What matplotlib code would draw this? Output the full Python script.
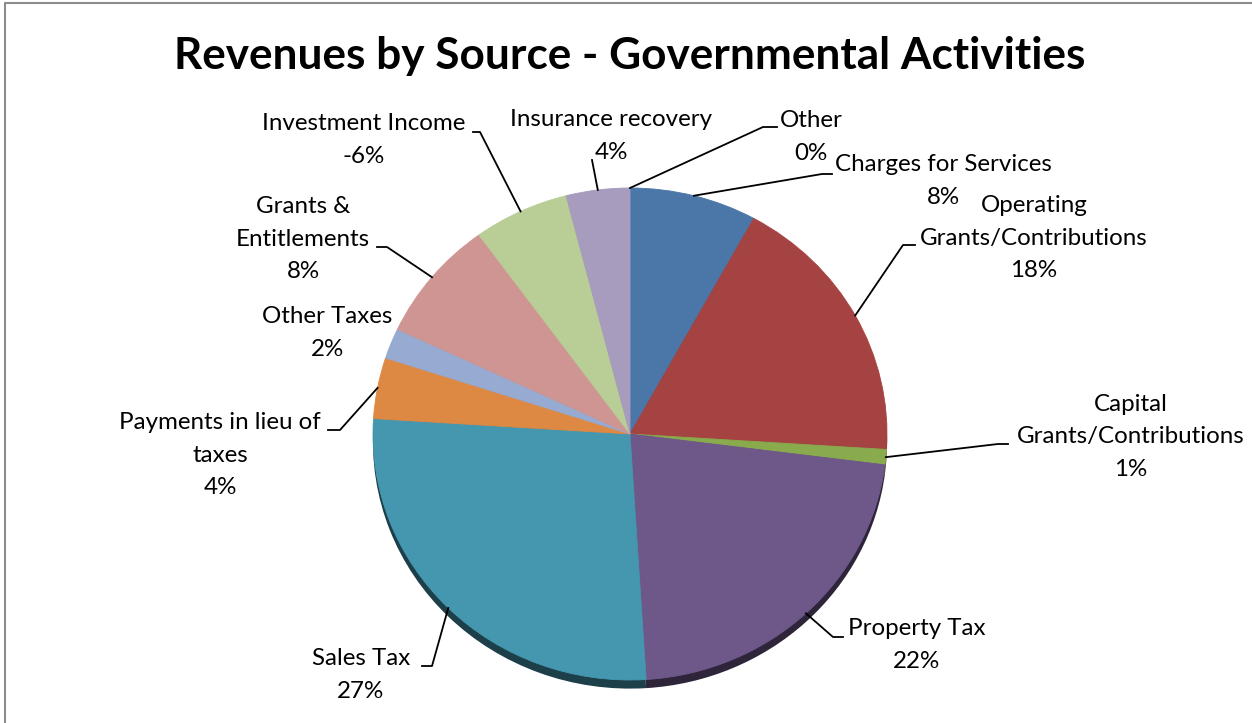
import numpy as np
import matplotlib.pyplot as plt
from matplotlib.colors import to_rgb

# revenue shares by source, clockwise from 12 o'clock
sources = ["Other", "Charges for Services", "Operating\nGrants/Contributions",
           "Capital\nGrants/Contributions", "Property Tax", "Sales Tax",
           "Payments in lieu of\ntaxes", "Other Taxes", "Grants &\nEntitlements",
           "Investment Income", "Insurance recovery"]
shares = [0, 8, 18, 1, 22, 27, 4, 2, 8, -6, 4]
colors = ["#4BACC6", "#4A76A8", "#A44341", "#8AAB4D", "#6E588A", "#4497AE",
          "#DE8943", "#96AAD2", "#CF9593", "#B9CD96", "#A89CBE"]

# label block centres and leader line knee/end points, in pixels from top-left
label_pos = [(811, 137), (943, 181), (1034, 238), (1131, 437), (917, 645),
             (361, 675), (220, 455), (327, 333), (303, 239), (364, 140), (611, 136)]
leader_pts = [[(763, 127), (777, 127)],
              [(822, 174), (832, 174)],
              [(903, 245), (915, 245)],
              [(998, 444), (1008, 444)],
              [(833, 637), (843, 637)],
              [(432, 666), (422, 666)],
              [(340, 430), (328, 430)],
              None,
              [(387, 247), (377, 247)],
              [(480, 132), (473, 132)],
              [(592, 160)]]
line_pitch = 32.5

W, H = 1252, 723
plt.rcParams['font.family'] = ['Lato', 'DejaVu Sans']

fig = plt.figure(figsize=(W / 100, H / 100), dpi=100)

# pie area: x 373..887, y 188..680 (pixels from top)
pie_left, pie_right, pie_top, pie_bot = 373, 887, 188, 680
ax = fig.add_axes([pie_left / W, 1 - pie_bot / H,
                   (pie_right - pie_left) / W, (pie_bot - pie_top) / H])
sizes = np.abs(shares)

# darker copy slightly lower gives the thin 3D rim
dark = [tuple(c * 0.42 for c in to_rgb(col)) for col in colors]
ax.pie(sizes, colors=dark, startangle=90, counterclock=False,
       center=(0, -0.035), wedgeprops=dict(linewidth=0.5))
wedges, _ = ax.pie(sizes, colors=colors, startangle=90, counterclock=False,
                   wedgeprops=dict(linewidth=0.6))
for w, col in zip(wedges, colors):
    w.set_edgecolor(col)
ax.set_aspect('auto')
ax.set_xlim(-1, 1)
ax.set_ylim(-1, 1)
ax.axis('off')

# overlay axes in pixel coordinates for text, leaders and frame
ov = fig.add_axes([0, 0, 1, 1], zorder=5)
ov.set_xlim(0, W)
ov.set_ylim(H, 0)
ov.axis('off')
ov.patch.set_alpha(0)

ov.plot([5, 5, W], [H, 3, 3], color='#8c8c8c', lw=1.5, solid_capstyle='butt')

ov.text(630, 56, "Revenues by Source - Governmental Activities",
        ha='center', va='center', fontsize=31.8, fontweight='bold')

cum = np.concatenate([[0], np.cumsum(sizes)]) / sizes.sum()
for i, (name, val) in enumerate(zip(sources, shares)):
    mid = 2 * np.pi * (cum[i] + cum[i + 1]) / 2
    dx, dy = ax.transData.transform((np.sin(mid), np.cos(mid)))
    start = (dx, H - dy)
    if leader_pts[i] is not None:
        pts = [start] + leader_pts[i]
        ov.plot([p[0] for p in pts], [p[1] for p in pts], color='black', lw=1.3)
    # one text per line so neighbouring blocks can sit close together
    x, y = label_pos[i]
    lines = f"{name}\n{val}%".split("\n")
    for k, line in enumerate(lines):
        ly = y + (k - (len(lines) - 1) / 2) * line_pitch
        ov.text(x, ly, line, ha='center', va='center', fontsize=17.4)

fig.savefig('out.png', dpi=100)
